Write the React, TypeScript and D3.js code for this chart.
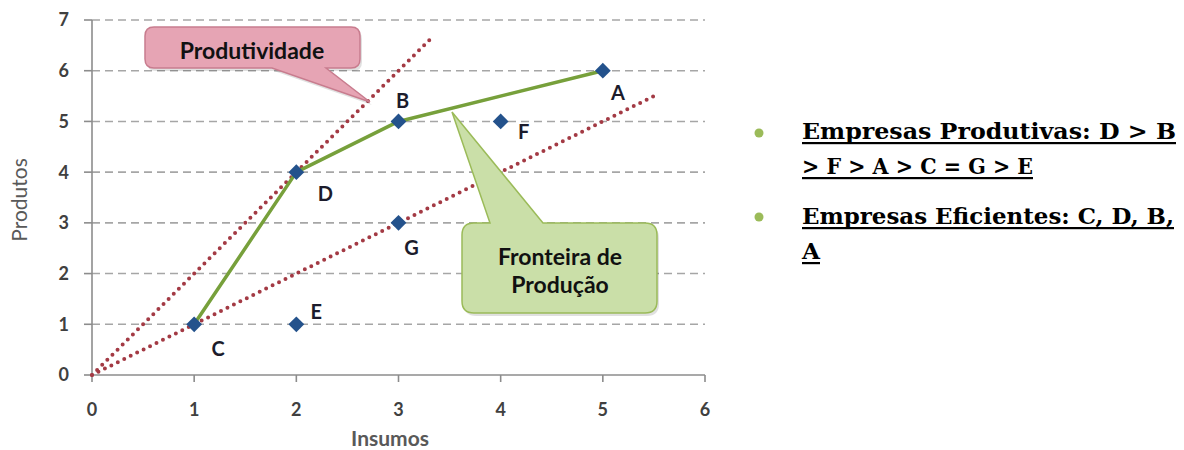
import React from "react";
import * as d3 from "d3";

// ---- data ----
const xTicks = [0, 1, 2, 3, 4, 5, 6];
const yTicks = [0, 1, 2, 3, 4, 5, 6, 7];
const firmNames = ["A", "B", "C", "D", "E", "F", "G"];
const firmInputs = [5, 3, 1, 2, 2, 4, 3];
const firmOutputs = [6, 5, 1, 4, 1, 5, 3];
const frontierOrder = ["C", "D", "B", "A"];
const raySlopes = [2, 1];
const rayEndX = [3.33, 5.5];
const xTitle = "Insumos";
const yTitle = "Produtos";
const calloutPink = ["Produtividade"];
const calloutGreen = ["Fronteira de", "Produção"];
const bulletLines = [
  ["Empresas Produtivas: D > B", "> F > A > C = G > E"],
  ["Empresas Eficientes: C, D, B,", "A"],
];

// ---- layout ----
const W = 1184, H = 450;
const labelOffset: Record<string, [number, number]> = {
  A: [15, 22], B: [4, -21], C: [24, 25], D: [29, 22], E: [20, -12], F: [23, 10], G: [13, 25],
};

function calloutPath(x0: number, y0: number, x1: number, y1: number, r: number,
  side: "top" | "bottom", a: number, b: number, tx: number, ty: number) {
  if (side === "bottom") {
    return `M${x0 + r},${y0} H${x1 - r} Q${x1},${y0} ${x1},${y0 + r} V${y1 - r} Q${x1},${y1} ${x1 - r},${y1} H${b} L${tx},${ty} L${a},${y1} H${x0 + r} Q${x0},${y1} ${x0},${y1 - r} V${y0 + r} Q${x0},${y0} ${x0 + r},${y0} Z`;
  }
  return `M${x0 + r},${y0} H${a} L${tx},${ty} L${b},${y0} H${x1 - r} Q${x1},${y0} ${x1},${y0 + r} V${y1 - r} Q${x1},${y1} ${x1 - r},${y1} H${x0 + r} Q${x0},${y1} ${x0},${y1 - r} V${y0 + r} Q${x0},${y0} ${x0 + r},${y0} Z`;
}

export default function App() {
  const x = d3.scaleLinear().domain([0, 6]).range([92, 705]);
  const y = d3.scaleLinear().domain([0, 7]).range([375, 20]);
  const firms = firmNames.map((n, i) => ({ name: n, x: firmInputs[i], y: firmOutputs[i] }));
  const byName = new Map(firms.map((f) => [f.name, f]));
  const frontier = frontierOrder.map((n) => byName.get(n)!);
  const line = d3.line<{ x: number; y: number }>().x((d) => x(d.x)).y((d) => y(d.y));
  const diamond = d3.symbol().type(d3.symbolSquare).size(125)()!;
  const tickFont = "Lato, 'Open Sans', sans-serif";
  const textLens = [[374, 231], [372, 18]];
  const baselines = [[139, 174], [224, 259]];
  const bulletY = [133, 217];

  const pinkPath = calloutPath(145, 27, 360, 68, 9, "bottom", 272, 326, 370, 102);
  const greenPath = calloutPath(462, 223, 657, 313, 12, "top", 490, 543, 452, 112);

  return (
    <svg width={W} height={H} style={{ position: "absolute", left: 0, top: 0, background: "#fff" }}>
      {/* gridlines */}
      {yTicks.filter((t) => t > 0).map((t) => (
        <line key={"g" + t} x1={x(0)} x2={x(6)} y1={y(t)} y2={y(t)}
          stroke="#a6a6a6" strokeWidth={1.6} strokeDasharray="8 5" />
      ))}
      {/* axes */}
      <line x1={x(0)} x2={x(0)} y1={y(0)} y2={y(7)} stroke="#8c8c8c" strokeWidth={1.6} />
      <line x1={x(0)} x2={x(6)} y1={y(0)} y2={y(0)} stroke="#8c8c8c" strokeWidth={1.6} />
      {yTicks.map((t) => (
        <g key={"yt" + t}>
          <line x1={x(0) - 8} x2={x(0)} y1={y(t)} y2={y(t)} stroke="#8c8c8c" strokeWidth={1.6} />
          <text x={69} y={y(t)} dy="0.36em" textAnchor="end" fontFamily={tickFont}
            fontSize={18} fontWeight={700} fill="#404040">{t}</text>
        </g>
      ))}
      {xTicks.map((t) => (
        <g key={"xt" + t}>
          <line x1={x(t)} x2={x(t)} y1={y(0)} y2={y(0) + 7} stroke="#8c8c8c" strokeWidth={1.6} />
          <text x={x(t)} y={410} dy="0.36em" textAnchor="middle" fontFamily={tickFont}
            fontSize={18} fontWeight={700} fill="#404040">{t}</text>
        </g>
      ))}
      <text x={390} y={438} dy="0.36em" textAnchor="middle" fontFamily={tickFont}
        fontSize={21} fontWeight={700} fill="#595959">{xTitle}</text>
      <text transform="translate(19,200) rotate(-90)" dy="0.36em" textAnchor="middle"
        fontFamily={tickFont} fontSize={21} fontWeight={400} fill="#595959">{yTitle}</text>

      {/* productivity rays */}
      {raySlopes.map((s, i) => (
        <line key={"r" + i} x1={x(0)} y1={y(0)} x2={x(rayEndX[i])} y2={y(s * rayEndX[i])}
          stroke="#a33a44" strokeWidth={4} strokeDasharray="0 7.2" strokeLinecap="round" />
      ))}

      {/* frontier */}
      <path d={line(frontier)!} fill="none" stroke="#77a03b" strokeWidth={3.5} strokeLinejoin="round" />

      {/* firms */}
      {firms.map((f) => (
        <g key={f.name}>
          <path d={diamond} transform={`translate(${x(f.x)},${y(f.y)}) rotate(45)`} fill="#24528c" />
          <text x={x(f.x) + labelOffset[f.name][0]} y={y(f.y) + labelOffset[f.name][1]} dy="0.36em"
            textAnchor="middle" fontFamily={tickFont} fontSize={20} fontWeight={700} fill="#1c1c2c">{f.name}</text>
        </g>
      ))}

      {/* callouts */}
      <path d={pinkPath} transform="translate(2,3)" fill="#000" opacity={0.12} />
      <path d={pinkPath} fill="#e6a4b4" stroke="#c87c8e" strokeWidth={1.5} />
      <text x={252} y={51} dy="0.36em" textAnchor="middle" fontFamily={tickFont}
        fontSize={23} fontWeight={700} fill="#111">{calloutPink[0]}</text>

      <path d={greenPath} transform="translate(2,3)" fill="#000" opacity={0.12} />
      <path d={greenPath} fill="#cadfa8" stroke="#9bbb59" strokeWidth={1.5} />
      {calloutGreen.map((t, i) => (
        <text key={"cg" + i} x={560} y={257 + i * 28} dy="0.36em" textAnchor="middle" fontFamily={tickFont}
          fontSize={23} fontWeight={700} fill="#111">{t}</text>
      ))}

      {/* bullets */}
      {bulletLines.map((lines, bi) => (
        <g key={"b" + bi}>
          <circle cx={759} cy={bulletY[bi]} r={4.5} fill="#9bbb59" />
          {lines.map((t, li) => (
            <g key={li}>
              <text x={802} y={baselines[bi][li]} fontFamily="'DejaVu Serif', serif" fontSize={22}
                fontWeight={700} fill="#000" textLength={textLens[bi][li]} lengthAdjust="spacingAndGlyphs">{t}</text>
              <rect x={802} y={baselines[bi][li] + 3} width={textLens[bi][li]} height={2.2} fill="#000" />
            </g>
          ))}
        </g>
      ))}
    </svg>
  );
}
